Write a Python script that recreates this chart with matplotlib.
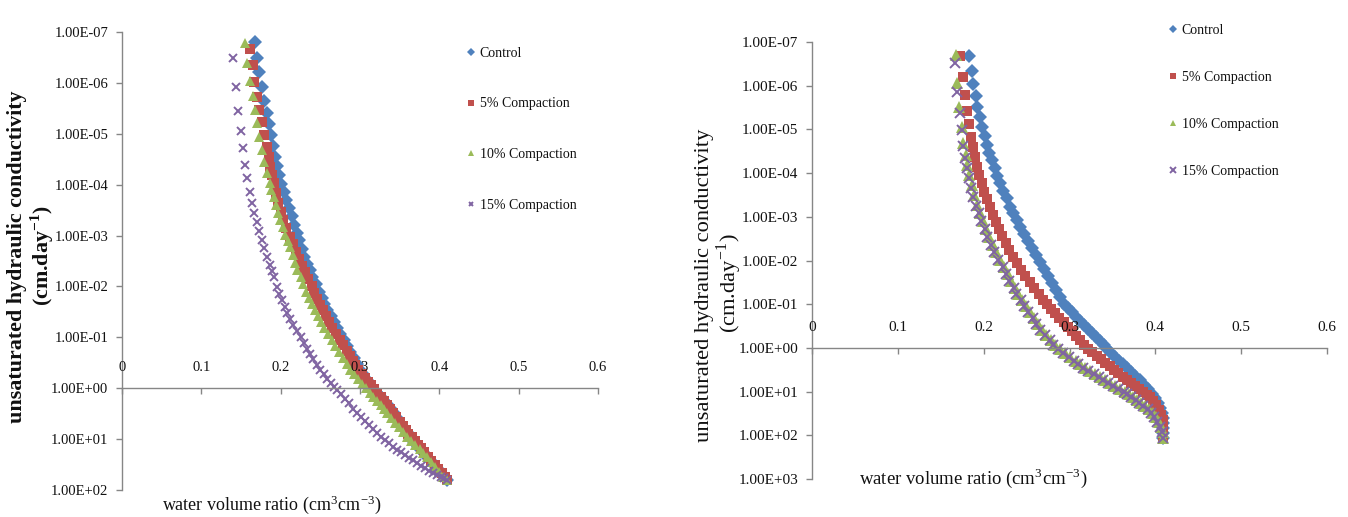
import matplotlib
matplotlib.use("Agg")
import numpy as np
import matplotlib.pyplot as plt
from matplotlib.ticker import FixedLocator, NullLocator, FuncFormatter

plt.rcParams['font.family'] = ['Liberation Serif', 'DejaVu Serif']
plt.rcParams['mathtext.fontset'] = 'stix'

# ---------------- data (x = water volume ratio, ly = log10 of axis value) ----------------
series_names = ["Control", "5% Compaction", "10% Compaction", "15% Compaction"]
x_ticks = [0, 0.1, 0.2, 0.3, 0.4, 0.5, 0.6]
x_tick_labels = ["0", "0.1", "0.2", "0.3", "0.4", "0.5", "0.6"]

# Left panel
L_ctrl_x = [.168,.170,.173,.176,.179,.183,.185,.188,.190,.193,.196,.198,.201,.204,.207,.211,.214,.217,.220,.223,
            .227,.230,.233,.237,.240,.244,.248,.252,.255,.259,.263,.267,.271,.275,.280,.284,.288,.292,.296,.300,
            .304,.309,.313,.317,.322,.326,.330,.335,.339,.343,.347,.351,.355,.359,.363,.367,.372,.376,.381,.385,
            .389,.393,.398,.402,.406,.410]
L_ctrl_ly = [-6.80,-6.49,-6.21,-5.92,-5.64,-5.41,-5.19,-4.98,-4.76,-4.54,-4.36,-4.19,-4.02,-3.86,-3.70,-3.54,-3.38,-3.21,-3.06,-2.92,
             -2.74,-2.58,-2.45,-2.32,-2.18,-2.05,-1.90,-1.77,-1.66,-1.54,-1.42,-1.30,-1.18,-1.07,-0.95,-0.83,-0.71,-0.59,-0.48,-0.36,
             -0.27,-0.17,-0.07,0.01,0.09,0.17,0.25,0.33,0.41,0.49,0.58,0.68,0.78,0.87,0.96,1.04,1.12,1.20,1.28,1.35,
             1.43,1.51,1.59,1.66,1.74,1.80]

L_c5_x = [.161,.165,.166,.170,.173,.176,.179,.183,.185,.187,.189,.191,.194,.197,.200,.203,.207,.212,.215,.219,
          .223,.227,.231,.235,.239,.242,.246,.250,.253,.257,.261,.265,.270,.275,.279,.283,.287,.291,.294,.298,
          .302,.306,.310,.314,.318,.322,.326,.330,.334,.338,.342,.346,.350,.354,.358,.361,.365,.369,.373,.377,
          .381,.386,.390,.394,.398,.403,.407,.410]
L_c5_ly = [-6.67,-6.35,-6.02,-5.72,-5.47,-5.23,-4.98,-4.74,-4.55,-4.35,-4.19,-4.03,-3.83,-3.64,-3.47,-3.31,-3.14,-2.97,-2.83,-2.68,
           -2.53,-2.40,-2.28,-2.14,-2.00,-1.88,-1.76,-1.64,-1.54,-1.42,-1.30,-1.18,-1.06,-0.95,-0.85,-0.74,-0.64,-0.54,-0.46,-0.36,
           -0.28,-0.20,-0.13,-0.06,0.02,0.09,0.17,0.25,0.33,0.41,0.49,0.57,0.66,0.74,0.82,0.89,0.96,1.03,1.11,1.18,
           1.26,1.35,1.43,1.51,1.58,1.66,1.74,1.80]

L_c10_x = [.155,.158,.161,.165,.168,.170,.173,.176,.179,.183,.186,.188,.191,.194,.197,.199,.203,.206,.209,.212,
           .215,.218,.221,.225,.228,.232,.236,.240,.243,.247,.251,.255,.260,.265,.269,.274,.279,.283,.288,.293,
           .298,.303,.308,.313,.317,.321,.326,.330,.334,.339,.344,.349,.354,.359,.364,.369,.375,.380,.385,.390,
           .395,.400,.405,.410]
L_c10_ly = [-6.78,-6.39,-6.04,-5.74,-5.47,-5.21,-4.94,-4.68,-4.45,-4.23,-4.03,-3.90,-3.76,-3.60,-3.45,-3.31,-3.16,-3.02,-2.90,-2.78,
            -2.62,-2.47,-2.32,-2.18,-2.04,-1.90,-1.77,-1.65,-1.54,-1.42,-1.30,-1.18,-1.06,-0.95,-0.83,-0.71,-0.59,-0.48,-0.36,-0.27,
            -0.18,-0.09,0.00,0.09,0.17,0.25,0.33,0.41,0.49,0.58,0.68,0.77,0.87,0.96,1.04,1.12,1.20,1.28,1.35,1.45,
            1.55,1.64,1.74,1.80]

L_c15_x = [.140,.144,.146,.150,.153,.155,.158,.161,.164,.166,.170,.173,.176,.179,.183,.186,.189,.191,.195,.198,
           .202,.205,.208,.212,.216,.220,.225,.229,.233,.237,.241,.246,.250,.254,.258,.263,.267,.271,.276,.281,
           .286,.291,.296,.301,.306,.311,.316,.322,.327,.332,.337,.342,.347,.352,.357,.362,.367,.372,.377,.382,
           .387,.392,.397,.402,.406,.410]
L_c15_ly = [-6.49,-5.92,-5.45,-5.06,-4.72,-4.39,-4.13,-3.86,-3.64,-3.44,-3.27,-3.09,-2.91,-2.76,-2.58,-2.42,-2.30,-2.19,-1.99,-1.86,
            -1.73,-1.60,-1.48,-1.37,-1.25,-1.13,-1.01,-0.89,-0.78,-0.67,-0.57,-0.46,-0.36,-0.27,-0.18,-0.10,-0.03,0.03,0.12,0.21,
            0.30,0.40,0.49,0.57,0.65,0.73,0.80,0.88,0.95,1.02,1.08,1.15,1.21,1.26,1.32,1.37,1.42,1.47,1.52,1.57,
            1.62,1.66,1.70,1.74,1.77,1.80]

# Right panel
R_ctrl_x = [.183,.186,.188,.191,.192,.196,.198,.202,.204,.206,.210,.213,.216,.219,.223,.227,.231,.234,.239,.242,
            .247,.252,.256,.261,.266,.270,.275,.280,.284,.289,.294,.298,.303,.308,.312,.317,.322,.326,.331,.336,
            .340,.344,.348,.353,.358,.362,.367,.372,.376,.382,.387,.392,.396,.400,.403,.406,.408,.409,.409,.409,
            .409,.409]
R_ctrl_ly = [-6.68,-6.34,-6.04,-5.76,-5.51,-5.28,-5.05,-4.85,-4.64,-4.46,-4.30,-4.12,-3.93,-3.77,-3.59,-3.43,-3.22,-3.09,-2.93,-2.77,
             -2.61,-2.45,-2.29,-2.13,-1.97,-1.81,-1.65,-1.49,-1.33,-1.16,-1.00,-0.91,-0.82,-0.71,-0.62,-0.52,-0.43,-0.34,-0.25,-0.16,
             -0.07,0.03,0.12,0.21,0.30,0.37,0.46,0.55,0.64,0.73,0.85,0.94,1.05,1.15,1.26,1.38,1.49,1.60,1.72,1.83,
             1.95,2.06]

R_c5_x = [.172,.176,.178,.181,.183,.185,.188,.190,.192,.195,.198,.200,.204,.207,.211,.214,.218,.221,.226,.230,
          .234,.239,.244,.248,.254,.259,.265,.269,.274,.279,.283,.288,.294,.298,.303,.308,.312,.317,.322,.326,
          .332,.337,.341,.347,.352,.357,.362,.367,.372,.376,.381,.386,.390,.394,.397,.401,.404,.407,.409,.409,
          .409,.409,.409]
R_c5_ly = [-6.68,-6.20,-5.79,-5.42,-5.12,-4.83,-4.60,-4.37,-4.14,-3.96,-3.77,-3.57,-3.41,-3.22,-3.04,-2.88,-2.72,-2.56,-2.40,-2.24,
           -2.08,-1.94,-1.78,-1.65,-1.51,-1.37,-1.23,-1.10,-1.00,-0.89,-0.80,-0.68,-0.59,-0.48,-0.39,-0.27,-0.18,-0.07,0.03,0.09,
           0.19,0.25,0.35,0.41,0.51,0.57,0.67,0.73,0.80,0.87,0.94,1.01,1.08,1.12,1.22,1.31,1.42,1.54,1.65,1.74,
           1.83,1.95,2.06]

R_c10_x = [.168,.169,.171,.175,.176,.179,.181,.183,.186,.189,
           .192,.196,.199,.203,.206,.211,.214,.219,.224,.228,.232,.237,.240,.245,.249,.254,.259,.263,.268,.273,
           .279,.283,.289,.295,.301,.307,.312,.318,.324,.330,.336,.341,.347,.353,.359,.365,.369,.374,.379,.383,
           .388,.393,.397,.401,.404,.407,.409,.409]
R_c10_ly = [-6.70,-6.06,-5.51,-5.05,-4.69,-4.41,-4.19,-3.96,-3.73,-3.50,
            -3.27,-3.09,-2.90,-2.72,-2.54,-2.35,-2.19,-2.01,-1.85,-1.69,-1.53,-1.37,-1.23,-1.10,-0.96,-0.82,-0.68,-0.55,-0.41,-0.30,
            -0.18,-0.07,0.03,0.12,0.21,0.30,0.37,0.46,0.53,0.60,0.67,0.73,0.80,0.87,0.94,1.01,1.05,1.12,1.19,1.26,
            1.33,1.40,1.49,1.58,1.70,1.81,1.92,2.06]

R_c15_x = [.167,.169,.172,.175,.176,.178,.181,.183,.185,.188,.191,
           .194,.197,.201,.204,.209,.212,.217,.222,.226,.230,.235,.238,.243,.247,.252,.257,.261,.266,.271,.277,
           .281,.287,.293,.299,.305,.310,.316,.322,.328,.334,.339,.345,.351,.357,.363,.367,.372,.377,.381,.386,
           .391,.395,.399,.402,.405,.408,.409]
R_c15_ly = [-6.52,-5.86,-5.38,-4.99,-4.62,-4.35,-4.12,-3.89,-3.66,-3.45,-3.25,
            -3.09,-2.90,-2.72,-2.54,-2.35,-2.19,-2.01,-1.85,-1.69,-1.53,-1.37,-1.23,-1.10,-0.96,-0.82,-0.68,-0.55,-0.41,-0.30,-0.18,
            -0.07,0.03,0.12,0.21,0.30,0.37,0.46,0.53,0.60,0.67,0.73,0.80,0.87,0.94,1.01,1.05,1.12,1.19,1.26,1.33,
            1.40,1.49,1.58,1.70,1.81,1.92,2.06]

# ---------------- styling ----------------
colors = ["#4F81BD", "#C0504D", "#9BBB59", "#8064A2"]
markers = ["D", "s", "^", "x"]
gray = "#868686"
txt = "#111111"

fig = plt.figure(figsize=(13.48, 5.17), dpi=100)
W, H = 1348.0, 517.0

def fpos(l, t, r, b):
    return [l / W, 1 - b / H, (r - l) / W, (b - t) / H]

axL = fig.add_axes(fpos(122, 32, 598, 490))
axR = fig.add_axes(fpos(812, 42, 1327, 479))


def setup(ax, ybot_exp, fs):
    ax.set_yscale('log')
    ax.set_xlim(0, 0.6)
    ax.set_ylim(10.0 ** ybot_exp, 1e-7)
    for s in ['top', 'right']:
        ax.spines[s].set_visible(False)
    ax.spines['left'].set_color(gray)
    ax.spines['bottom'].set_color(gray)
    ax.spines['left'].set_linewidth(1.0)
    ax.spines['bottom'].set_linewidth(1.0)
    ax.spines['bottom'].set_position(('data', 1.0))
    ax.yaxis.set_major_locator(FixedLocator([10.0 ** k for k in range(-7, ybot_exp + 1)]))
    ax.yaxis.set_minor_locator(NullLocator())
    ax.yaxis.set_major_formatter(FuncFormatter(lambda v, p: f"{v:.2E}"))
    ax.tick_params(axis='y', direction='out', length=4, width=1, color=gray,
                   labelsize=fs, pad=6, labelcolor=txt)
    ax.set_xticks(x_ticks)
    ax.tick_params(axis='x', direction='out', length=4, width=1, color=gray,
                   labelbottom=False)
    for v, lab in zip(x_ticks, x_tick_labels):
        ax.annotate(lab, xy=(v, 1.0), xycoords='data', xytext=(0, 15),
                    textcoords='offset points', ha='center', va='center',
                    fontsize=fs, color=txt)
    ax.patch.set_alpha(0)


setup(axL, 2, 10.5)
setup(axR, 3, 11)

left_series = [(L_ctrl_x, L_ctrl_ly), (L_c5_x, L_c5_ly), (L_c10_x, L_c10_ly), (L_c15_x, L_c15_ly)]
right_series = [(R_ctrl_x, R_ctrl_ly), (R_c5_x, R_c5_ly), (R_c10_x, R_c10_ly), (R_c15_x, R_c15_ly)]


def draw(ax, series, ms):
    handles = []
    for (xs, lys), c, m, name in zip(series, colors, markers, series_names):
        ys = 10.0 ** np.asarray(lys)
        if m == 'x':
            h, = ax.plot(xs, ys, linestyle='none', marker=m, color=c, ms=ms * 0.9,
                         mew=1.4, label=name, clip_on=False)
        else:
            h, = ax.plot(xs, ys, linestyle='none', marker=m, color=c,
                         ms=ms * (1.15 if m == '^' else 1.0), mew=0, label=name, clip_on=False)
        handles.append(h)
    return handles


hL = draw(axL, left_series, 6.8)
hR = draw(axR, right_series, 7.4)

axL.legend(handles=hL, loc='upper left', bbox_to_anchor=(465 / W, 1 - 47 / H),
           bbox_transform=fig.transFigure, frameon=False, handlelength=0.8,
           handletextpad=0.25, labelspacing=2.7, borderpad=0, borderaxespad=0,
           fontsize=10, markerscale=0.55, labelcolor=txt)
axR.legend(handles=hR, loc='upper left', bbox_to_anchor=(1167 / W, 1 - 24 / H),
           bbox_transform=fig.transFigure, frameon=False, handlelength=0.8,
           handletextpad=0.25, labelspacing=2.45, borderpad=0, borderaxespad=0,
           fontsize=10, markerscale=0.55, labelcolor=txt)

# axis titles
fig.text(17 / W, 1 - 257 / H, "unsaturated hydraulic conductivity", rotation=90,
         ha='center', va='center', fontsize=15.8, fontweight='bold', color=txt)
fig.text(42 / W, 1 - 255 / H, r"(cm.day$^{\mathregular{-1}}$)", rotation=90,
         ha='center', va='center', fontsize=15.8, fontweight='bold', color=txt)
fig.text(272 / W, 1 - 505 / H, r"water volume ratio (cm$^{\mathregular{3}}$cm$^{\mathregular{-3}}$)",
         ha='center', va='center', fontsize=13, color=txt)

fig.text(704 / W, 1 - 285 / H, "unsaturated hydraulic conductivity", rotation=90,
         ha='center', va='center', fontsize=16.2, color=txt)
fig.text(729 / W, 1 - 283 / H, r"(cm.day$^{\mathregular{-1}}$)", rotation=90,
         ha='center', va='center', fontsize=16.2, color=txt)
fig.text(973 / W, 1 - 478 / H, r"water volume ratio (cm$^{\mathregular{3}}$cm$^{\mathregular{-3}}$)",
         ha='center', va='center', fontsize=13.5, color=txt)

fig.savefig("out.png", dpi=100, facecolor='white')
